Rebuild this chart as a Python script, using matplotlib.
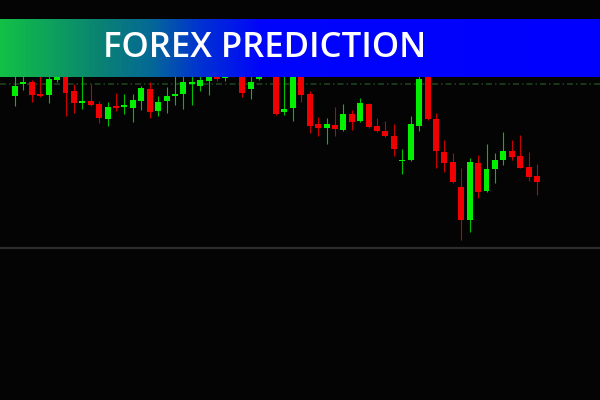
import numpy as np
import matplotlib
matplotlib.use('Agg')
import matplotlib.pyplot as plt
from matplotlib.colors import LinearSegmentedColormap

# Candle data (price units)
opens = [154, 166, 168.3, 156, 155, 170, 180, 159.3, 147, 149.3,
         146, 131.3, 144, 143.3, 142.3, 149, 161, 139.3, 149, 154,
         156, 166, 164, 169, 178, 172, 185, 182, 160.7, 171.3,
         178, 185, 138, 142.3, 180, 156, 125.7, 122.3, 124.7, 120,
         136, 129, 146.3, 124.3, 119, 113.7, 88.7, 90, 124.3, 180,
         131.3, 98, 88, 63.3, 30.3, 87.3, 59, 81, 90, 99,
         93.7, 83.3, 74]
highs = [175, 176, 170, 174, 174, 182, 185, 166, 176, 166,
         149.3, 147.7, 157, 156, 156, 164.3, 168, 154, 163.3, 176,
         176, 176, 176, 180, 182, 182, 190, 187, 176, 185,
         190, 190, 176, 188, 185, 159, 133.3, 131.7, 143.3, 146,
         140, 152.3, 147.3, 131.7, 129, 125.7, 101.3, 134, 180, 185,
         137.3, 110, 96.7, 82.3, 91.7, 95, 105.7, 96.7, 118, 110,
         115, 98, 85.7]
lows = [144, 160, 148, 153, 147.3, 168, 134, 136.7, 140.7, 144.5,
        127.3, 124, 139.3, 136, 128.3, 140, 131.7, 134, 137.3, 145,
        141, 145, 158.7, 155, 169.3, 169.3, 175, 152.7, 151, 170.5,
        175, 135, 135, 129, 147.7, 117.3, 114, 105.7, 114, 119,
        120, 128, 122.3, 118.5, 113, 94.3, 76, 88.7, 119.3, 130,
        82.3, 78.3, 66.7, 9.7, 18, 51.7, 57.7, 66.7, 85, 90,
        82, 69.3, 55]
closes = [164, 167, 155, 154, 171, 178, 157.3, 147, 149, 145,
          132.3, 143, 142.3, 144, 150, 161.7, 138.3, 148.3, 154, 156,
          168, 167, 170, 176, 171.3, 178, 178, 157.3, 168, 180,
          186, 136, 141.5, 182, 155, 124.3, 122.3, 125.7, 121, 136,
          128, 147, 123, 119, 113.7, 101, 90.3, 126, 171, 131,
          99, 87.3, 67.7, 30, 88, 58.3, 81, 90, 99, 93.3,
          82.3, 73.3, 68.3]

title = "FOREX PREDICTION"
ref_level = 166      # dash-dot level line
base_level = 1.7     # grey separator line

BG = '#040404'
UP_BODY, DN_BODY = '#00f000', '#f00000'
UP_WICK, DN_WICK = '#00c000', '#c80000'

fig = plt.figure(figsize=(6, 4), dpi=100, facecolor=BG)
ax = fig.add_axes([0, 0, 1, 1])
ax.set_facecolor(BG)
ax.set_xlim(-1.78, 69.48)
ax.set_ylim(-150, 250)
ax.axis('off')

ax.axhline(ref_level, color='#1d421d', lw=1.2,
           linestyle=(0, (3.6, 1.8, 0.9, 1.8)), zorder=1)
ax.axhline(base_level, color='#2c2c2c', lw=1.6, zorder=1)

for i, (o, h, l, c) in enumerate(zip(opens, highs, lows, closes)):
    up = c >= o
    ax.vlines(i, l, h, color=UP_WICK if up else DN_WICK, lw=0.8, zorder=2)
    bottom = min(o, c)
    height = max(abs(c - o), 1.6)
    ax.bar(i, height, bottom=bottom, width=0.71,
           color=UP_BODY if up else DN_BODY, lw=0, zorder=3)

# Banner with gradient
bax = fig.add_axes([0, 1 - 77.3 / 400, 1, 58.3 / 400])
bax.axis('off')
stops = [(0.0, (18/255, 192/255, 70/255)),
         (100/600, (10/255, 130/255, 115/255)),
         (150/600, (5/255, 105/255, 150/255)),
         (200/600, (0, 50/255, 210/255)),
         (260/600, (0, 5/255, 250/255)),
         (1.0, (0, 0, 1))]
cmap = LinearSegmentedColormap.from_list('banner', stops)
grad = np.linspace(0, 1, 600).reshape(1, -1)
bax.imshow(grad, cmap=cmap, aspect='auto', extent=[0, 1, 0, 1])
bax.set_xlim(0, 1)
bax.set_ylim(0, 1)

fig.text(103 / 600, 1 - 56.7 / 400, title, color='white', fontsize=25,
         fontweight='semibold', family=['Open Sans', 'DejaVu Sans'],
         ha='left', va='baseline', zorder=10)

fig.savefig('out.png', dpi=100, facecolor=BG)
